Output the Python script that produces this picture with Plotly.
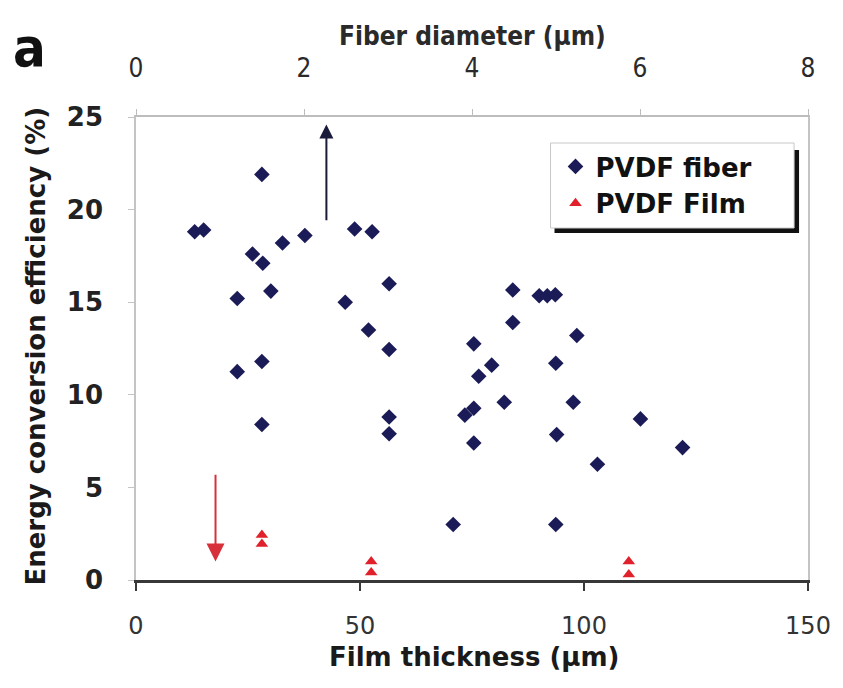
import plotly.graph_objects as go

# ---- data ----
fiber_thickness = [13.1, 15.1, 22.6, 22.6, 26.0, 28.1, 28.3, 28.1, 28.1, 30.1, 32.7, 37.7,
                   46.7, 48.8, 51.9, 52.7, 56.5, 56.5, 56.5, 56.5, 70.8, 73.4, 75.4, 75.4,
                   75.4, 76.5, 79.4, 82.2, 84.1, 84.1, 90.0, 91.8, 93.6, 93.7, 93.9, 93.7,
                   97.6, 98.4, 103.0, 112.6, 122.0]
fiber_eff = [18.8, 18.9, 15.2, 11.25, 17.6, 21.9, 17.1, 11.8, 8.4, 15.6, 18.2, 18.6,
             15.0, 18.95, 13.5, 18.8, 16.0, 12.45, 8.8, 7.9, 3.0, 8.9, 9.27, 7.4,
             12.75, 11.0, 11.6, 9.6, 15.66, 13.9, 15.35, 15.35, 15.4, 11.7, 7.85, 3.0,
             9.6, 13.2, 6.25, 8.7, 7.15]

film_thickness = [28.1, 28.1, 52.5, 52.5, 110.0, 110.0]
film_eff = [2.43, 1.95, 1.0, 0.4, 1.0, 0.3]

x_ticks = [0, 50, 100, 150]
y_ticks = [0, 5, 10, 15, 20, 25]
top_ticks = [0, 2, 4, 6, 8]

# arrows: (x, tail_y, head_y)
up_arrow = (42.5, 19.35, 24.6)
down_arrow = (17.75, 5.76, 1.0)

NAVY = "#1b1b57"
RED = "#e0202a"
BOLD = "DejaVu Sans, Liberation Sans, Arial, sans-serif"
COND = "DejaVu Sans Condensed, DejaVu Sans, sans-serif"

# plot area in pixels (for paper-coordinate helpers)
L, R, T, B = 136, 812, 117, 580
def px(xp):
    return (xp - L) / (R - L)
def py(yp):
    return (B - yp) / (B - T)

fig = go.Figure()
fig.add_trace(go.Scatter(x=fiber_thickness, y=fiber_eff, mode="markers", name="<b>PVDF fiber</b>",
                         marker=dict(symbol="diamond", size=12, color=NAVY)))
fig.add_trace(go.Scatter(x=film_thickness, y=film_eff, mode="markers", name="<b>PVDF Film</b>",
                         marker=dict(symbol="triangle-up", size=11, color=RED)))
# invisible trace to activate the top axis
fig.add_trace(go.Scatter(x=[top_ticks[0], top_ticks[-1]], y=[0, 0], xaxis="x2", mode="markers",
                         marker=dict(opacity=0), showlegend=False, hoverinfo="skip"))

fig.add_annotation(x=up_arrow[0], y=up_arrow[2], ax=up_arrow[0], ay=up_arrow[1],
                   xref="x", yref="y", axref="x", ayref="y", text="", showarrow=True,
                   arrowhead=2, arrowsize=1.4, arrowwidth=2, arrowcolor="#1a1a3a")
fig.add_annotation(x=down_arrow[0], y=down_arrow[2], ax=down_arrow[0], ay=down_arrow[1],
                   xref="x", yref="y", axref="x", ayref="y", text="", showarrow=True,
                   arrowhead=2, arrowsize=1.8, arrowwidth=2, arrowcolor="#d8303a")

# titles as annotations
fig.add_annotation(x=px(35), y=py(346), xref="paper", yref="paper", xanchor="center", yanchor="middle",
                   text="<b>Energy conversion efficiency (%)</b>", textangle=-90, showarrow=False,
                   font=dict(family=BOLD, size=26, color="#1a1a1a"))
fig.add_annotation(x=px(476), y=py(657), xref="paper", yref="paper", xanchor="center", yanchor="middle",
                   text="<b>Film thickness (µm)</b>", showarrow=False,
                   font=dict(family=BOLD, size=26, color="#1a1a1a"))
fig.add_annotation(x=px(475), y=py(36), xref="paper", yref="paper", xanchor="center", yanchor="middle",
                   text="<b>Fiber diameter (µm)</b>", showarrow=False,
                   font=dict(family=COND, size=26, color="#2a2a2a"))
fig.add_annotation(x=px(29), y=py(47), xref="paper", yref="paper", xanchor="center", yanchor="middle",
                   text="<b>a</b>", showarrow=False,
                   font=dict(family=COND, size=54, color="#111111"))

# legend frame with drop shadow
fig.add_shape(type="rect", xref="paper", yref="paper",
              x0=px(557), x1=px(803), y0=py(233), y1=py(150),
              fillcolor="#111111", line=dict(width=0), layer="above")
fig.add_shape(type="rect", xref="paper", yref="paper",
              x0=px(553), x1=px(798), y0=py(228), y1=py(143),
              fillcolor="white", line=dict(width=1, color="#c8c8c8"), layer="above")

fig.update_layout(
    width=843, height=688,
    margin=dict(l=L, r=843 - R, t=T, b=688 - B),
    paper_bgcolor="white", plot_bgcolor="white",
    showlegend=True,
    legend=dict(x=px(558), y=py(143), xanchor="left", yanchor="top",
                bgcolor="rgba(0,0,0,0)", borderwidth=0,
                font=dict(family=BOLD, size=26, color="#111111"), tracegroupgap=0),
    xaxis=dict(range=[0, 150], tickvals=x_ticks, showgrid=False, zeroline=False,
               showline=True, linecolor="#383838", linewidth=2.5,
               ticks="outside", ticklen=8, tickwidth=2, tickcolor="#383838",
               ticklabelstandoff=14,
               tickfont=dict(family=BOLD, size=24, color="#333333")),
    xaxis2=dict(range=[0, 8], tickvals=top_ticks, overlaying="x", side="top",
                showgrid=False, zeroline=False, showline=True, linecolor="#bdbdbd", linewidth=1.5,
                ticks="outside", ticklen=6, tickwidth=1, tickcolor="#bdbdbd",
                ticklabelstandoff=22,
                tickfont=dict(family=COND, size=26, color="#2a2a2a")),
    yaxis=dict(range=[0, 25], tickvals=y_ticks, showgrid=False, zeroline=False,
               showline=True, linecolor="#c4c4c4", linewidth=1.5, mirror=True,
               ticks="outside", ticklen=6, tickwidth=1, tickcolor="#c4c4c4",
               ticklabelstandoff=20,
               tickfont=dict(family=BOLD, size=26, color="#222222", weight="bold")),
)

fig.write_html("out.html")
